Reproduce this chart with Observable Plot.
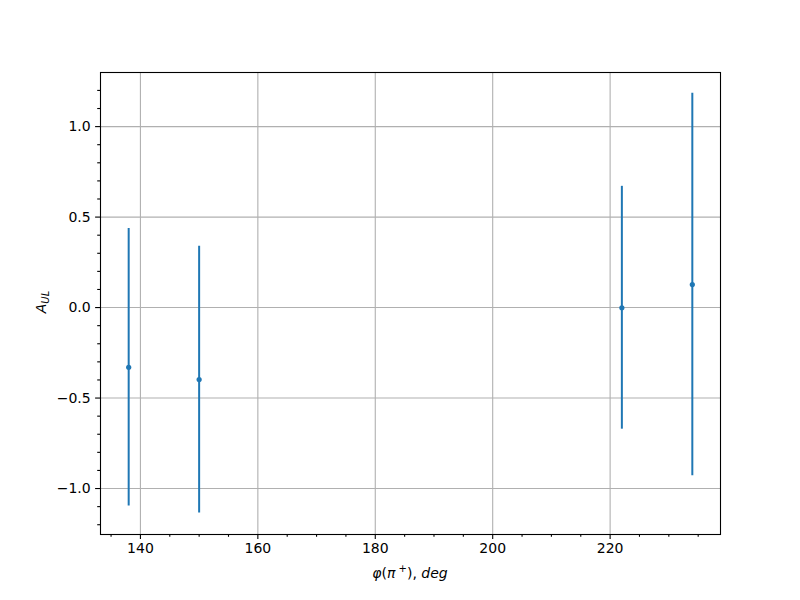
<!DOCTYPE html>
<html>
<head>
<meta charset="utf-8">
<script src="https://cdn.jsdelivr.net/npm/d3@7"></script>
<script src="https://cdn.jsdelivr.net/npm/@observablehq/plot@0.6"></script>
<style>
  html, body { margin: 0; padding: 0; background: white; }
</style>
</head>
<body>
<div id="chart"></div>
<script>
// Data
const phi = [138, 150, 222, 234];
const aul = [-0.330, -0.398, -0.001, 0.127];
const aulErr = [0.767, 0.737, 0.671, 1.057];

// Tick values
const xTicks = [140, 160, 180, 200, 220];
const xMinorTicks = [135, 145, 150, 155, 165, 170, 175, 185, 190, 195, 205, 210, 215, 225, 230, 235];
const yTicks = [-1.0, -0.5, 0.0, 0.5, 1.0];
const yMinorTicks = [-1.2, -1.1, -0.9, -0.8, -0.7, -0.6, -0.4, -0.3, -0.2, -0.1, 0.1, 0.2, 0.3, 0.4, 0.6, 0.7, 0.8, 0.9, 1.1, 1.2];

const data = phi.map((x, i) => ({x, y: aul[i], lo: aul[i] - aulErr[i], hi: aul[i] + aulErr[i]}));

const blue = "#1f77b4";
const gridColor = "#b0b0b0";

const chart = Plot.plot({
  width: 800,
  height: 600,
  marginLeft: 100,
  marginRight: 80,
  marginTop: 72,
  marginBottom: 66,
  x: {domain: [133.2, 238.8]},
  y: {domain: [-1.254, 1.299]},
  style: {fontFamily: "DejaVu Sans", fontSize: "14px", background: "white", color: "black"},
  marks: [
    Plot.gridX(xTicks, {stroke: gridColor, strokeOpacity: 1, strokeWidth: 1.1}),
    Plot.gridY(yTicks, {stroke: gridColor, strokeOpacity: 1, strokeWidth: 1.1}),
    Plot.axisX(xMinorTicks, {tickSize: 2.8, tickFormat: () => "", label: null, strokeWidth: 1.1}),
    Plot.axisX(xTicks, {tickSize: 4.9, tickPadding: 4, tickFormat: d => String(d), label: null, strokeWidth: 1.1}),
    Plot.axisY(yMinorTicks, {tickSize: 2.8, tickFormat: () => "", label: null, strokeWidth: 1.1}),
    Plot.axisY(yTicks, {tickSize: 4.9, tickPadding: 4.9, tickFormat: d3.format(".1f"), label: null, strokeWidth: 1.1}),
    Plot.ruleX(data, {x: "x", y1: "lo", y2: "hi", stroke: blue, strokeWidth: 2}),
    Plot.dot(data, {x: "x", y: "y", r: 2.6, fill: blue, stroke: "none"}),
    Plot.frame({stroke: "black", strokeWidth: 1.1})
  ]
});

document.getElementById("chart").appendChild(chart);

// Axis labels with math-style formatting
const svg = d3.select(chart);
const xl = svg.append("text")
  .attr("x", 410).attr("y", 578)
  .attr("text-anchor", "middle")
  .attr("font-family", "DejaVu Sans").attr("font-size", 14).attr("fill", "black");
xl.append("tspan").attr("font-style", "italic").text("φ");
xl.append("tspan").text("(");
xl.append("tspan").attr("font-style", "italic").text("π");
xl.append("tspan").attr("font-size", 10).attr("dy", -6).text(" +");
xl.append("tspan").attr("dy", 6).text("),");
xl.append("tspan").attr("font-style", "italic").text(" deg");

const yl = svg.append("text")
  .attr("transform", "translate(46,302) rotate(-90)")
  .attr("text-anchor", "middle")
  .attr("font-family", "DejaVu Sans").attr("font-size", 14).attr("fill", "black");
yl.append("tspan").attr("font-style", "italic").text("A");
yl.append("tspan").attr("font-style", "italic").attr("font-size", 10).attr("dy", 3).text("UL");
</script>
</body>
</html>
